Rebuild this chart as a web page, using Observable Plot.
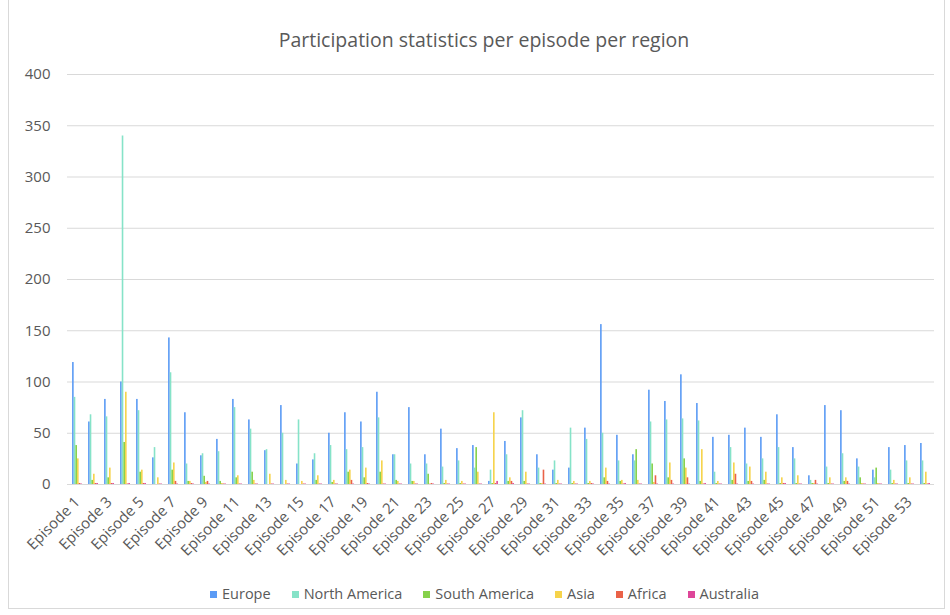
<!DOCTYPE html>
<html>
<head>
<meta charset="utf-8">
<script src="https://cdn.jsdelivr.net/npm/d3@7"></script>
<script src="https://cdn.jsdelivr.net/npm/@observablehq/plot@0.6"></script>
<style>
  body { margin: 0; background: #fff; }
  #root { position: relative; width: 950px; height: 615px; font-family: "Open Sans", sans-serif; color: #595959; }
  #frame { position: absolute; left: 8px; top: -2px; width: 937px; height: 611px; border: 1px solid #d9d9d9; border-top: none; box-sizing: border-box; }
  #title { height: 60px; box-sizing: border-box; padding-top: 28px; padding-left: 18px; text-align: center; font-size: 19.5px; line-height: 24px; }
  #legend { position: absolute; top: 585px; left: 210px; display: flex; gap: 21px; font-size: 14.5px; line-height: 18px; }
  #legend .item { display: flex; align-items: center; }
  #legend .sw { width: 7px; height: 7px; margin-right: 5px; }
</style>
</head>
<body>
<div id="root">
  <div id="frame"></div>
  <div id="title">Participation statistics per episode per region</div>
  <div id="chart"></div>
  <div id="legend"></div>
</div>
<script>
const episodes = d3.range(1, 55).map(i => "Episode " + i);
const regions = ["Europe", "North America", "South America", "Asia", "Africa", "Australia"];
const colors = ["#5B9BF5", "#86E3C8", "#86D14B", "#F6D34A", "#EA6248", "#DE4699"];
const yTicks = [0, 50, 100, 150, 200, 250, 300, 350, 400];

const europe = [119, 61, 83, 100, 83, 26, 143, 70, 28, 44, 83, 63, 33, 77, 20, 24, 50, 70, 61, 90, 29, 75, 29, 54, 35, 38, 3, 42, 65, 29, 14, 16, 55, 156, 48, 29, 92, 81, 107, 79, 46, 48, 55, 46, 68, 36, 8.5, 77, 72, 25, 14, 36, 38, 40];
const northAmerica = [85, 68, 66, 340, 72, 36, 109, 20, 30, 32, 75, 54, 34, 50, 63, 30, 38, 34, 36, 65, 29, 20, 20, 17, 23, 16, 14, 29, 72, 16, 23, 55, 44, 50, 23, 23, 61, 63, 64, 62, 12, 36, 20, 25, 36, 25, 4, 17, 30, 17, 6.5, 14, 23, 23];
const southAmerica = [38, 4, 6.5, 41, 12, 0, 14, 3, 8, 3, 6.5, 12, 0, 0, 0, 4, 2, 12, 6.5, 12, 4, 3, 10, 1, 1, 36, 1, 3, 3, 1, 1, 1, 1, 6.5, 3, 34, 20, 6.5, 25, 3, 1, 4, 3, 4, 1, 1, 1, 1, 3, 6.5, 16, 1, 1, 1];
const asia = [25, 10, 16, 90, 14, 6.5, 21, 3, 2, 1, 8.5, 4, 10, 4, 3, 8.5, 4, 14, 16, 23, 3, 3, 0.5, 4, 3, 12, 70, 6.5, 12, 1, 4, 3, 3, 16, 4, 4, 2, 21, 16, 34, 3, 21, 17, 12, 6.5, 8.5, 1, 6.5, 6.5, 1, 1, 4, 6.5, 12];
const africa = [1, 1, 1, 0.5, 1, 0.5, 3, 1, 3, 0.5, 0.5, 0.5, 0.5, 0.5, 0.5, 0.5, 0.5, 4, 1, 0.5, 0.5, 0.5, 1, 0.5, 0.5, 0.5, 1, 3, 0.5, 14, 0.5, 0.5, 1, 3, 0.5, 0.5, 8.5, 4, 6.5, 0.5, 0.5, 10, 3, 0.5, 1, 0.5, 4, 0.5, 3, 0.5, 0.5, 0.5, 0.5, 0.5];
const australia = [0.5, 1, 1, 1, 1, 0.5, 0.5, 0.5, 0.5, 0.5, 0.5, 0.5, 0.5, 0.5, 0.5, 0.5, 0.5, 0.5, 0.5, 0.5, 0.5, 0.5, 0.5, 0.5, 0.5, 0.5, 3, 1, 0.5, 0.5, 0.5, 0.5, 0.5, 0.5, 1, 0.5, 0.5, 0.5, 0.5, 1, 0.5, 0.5, 0.5, 0.5, 1, 0.5, 0.5, 0.5, 0.5, 0.5, 0.5, 0.5, 0.5, 1];

const series = [europe, northAmerica, southAmerica, asia, africa, australia];
const data = regions.flatMap((r, ri) => series[ri].map((v, i) => ({episode: episodes[i], region: r, value: v})));

const width = 950, height = 520, marginLeft = 67, marginRight = 16, marginTop = 14, marginBottom = 96;
const band = (width - marginLeft - marginRight) / episodes.length;
const barW = 1.65;
const inset = (band - barW) / 2;

const plot = Plot.plot({
  width, height, marginLeft, marginRight, marginTop, marginBottom,
  style: {fontFamily: "'Open Sans', sans-serif", fontSize: "15px", color: "#595959", background: "transparent"},
  x: {domain: episodes, padding: 0, label: null, tickSize: 0, tickPadding: 15, tickRotate: -45,
      tickFormat: d => (+d.split(" ")[1]) % 2 === 1 ? d : ""},
  y: {domain: [0, 400], ticks: yTicks, label: null, tickSize: 0, tickPadding: 17},
  marks: [
    Plot.ruleY(yTicks, {stroke: "#d9d9d9", strokeWidth: 1}),
    ...regions.map((r, ri) => Plot.barY(data.filter(d => d.region === r), {
      x: "episode", y: "value", fill: colors[ri],
      insetLeft: inset, insetRight: inset, dx: (ri - 2.5) * barW
    }))
  ]
});
document.getElementById("chart").appendChild(plot);

const legend = document.getElementById("legend");
regions.forEach((r, i) => {
  const item = document.createElement("div");
  item.className = "item";
  const sw = document.createElement("span");
  sw.className = "sw";
  sw.style.background = colors[i];
  const t = document.createElement("span");
  t.textContent = r;
  item.appendChild(sw); item.appendChild(t);
  legend.appendChild(item);
});
</script>
</body>
</html>
